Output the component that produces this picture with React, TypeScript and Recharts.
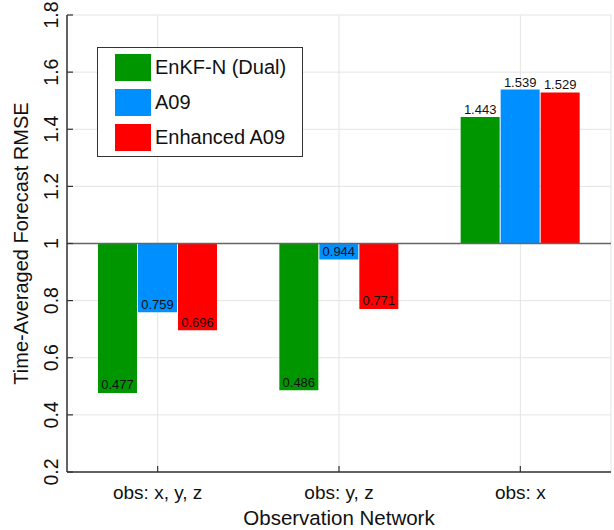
import React from "react";
import {
  BarChart,
  Bar,
  XAxis,
  YAxis,
  CartesianGrid,
  ReferenceLine,
  LabelList,
  Legend,
} from "recharts";

const categories = ["obs: x, y, z", "obs: y, z", "obs: x"];
const enkfDual = [0.477, 0.486, 1.443];
const a09 = [0.759, 0.944, 1.539];
const enhancedA09 = [0.696, 0.771, 1.529];
const yTicks = [0.2, 0.4, 0.6, 0.8, 1, 1.2, 1.4, 1.6, 1.8];
const baseline = 1;

const FONT = "'Liberation Sans', Arial, Helvetica, sans-serif";
const AXIS = "#333333";

const series = [
  { key: "enkf", name: "EnKF-N (Dual)", values: enkfDual, color: "#009600" },
  { key: "a09", name: "A09", values: a09, color: "#008FFF" },
  { key: "enh", name: "Enhanced A09", values: enhancedA09, color: "#FF0000" },
];

// bars grow from the 1.0 reference, so each cell is a [low, high] range
const data = categories.map((name, i) => {
  const row: Record<string, unknown> = { name };
  series.forEach((s) => {
    const v = s.values[i];
    row[s.key] = [Math.min(baseline, v), Math.max(baseline, v)];
  });
  return row;
});

// value text: inside the bottom of bars below 1, above the top of bars above 1
const makeBarLabel = (values: number[]) => (props: any) => {
  const { x, y, width, height, index } = props;
  const v = values[index];
  const cx = x + width / 2;
  const ty = v < baseline ? y + height - 3.5 : y - 3;
  return (
    <text x={cx} y={ty} textAnchor="middle" fontSize={13} fontFamily={FONT} fill="#111">
      {v.toFixed(3)}
    </text>
  );
};

const LeftTick = (props: any) => {
  const { x, y, payload } = props;
  return (
    <g>
      <line x1={x} y1={y} x2={x + 6} y2={y} stroke={AXIS} strokeWidth={1.2} />
      <text
        x={x - 9}
        y={y}
        transform={`rotate(-90, ${x - 9}, ${y})`}
        textAnchor="middle"
        fontSize={19.5}
        fontFamily={FONT}
        fill="#111"
      >
        {String(payload.value)}
      </text>
    </g>
  );
};

const RightTick = (props: any) => {
  const { x, y } = props;
  return <line x1={x} y1={y} x2={x - 6} y2={y} stroke={AXIS} strokeWidth={1.2} />;
};

const BottomTick = (props: any) => {
  const { x, y, payload } = props;
  return (
    <g>
      <line x1={x} y1={y} x2={x} y2={y - 6} stroke={AXIS} strokeWidth={1.2} />
      <text x={x} y={y + 27} textAnchor="middle" fontSize={19} fontFamily={FONT} fill="#111">
        {payload.value}
      </text>
    </g>
  );
};

const TopTick = (props: any) => {
  const { x, y } = props;
  return <line x1={x} y1={y} x2={x} y2={y + 6} stroke={AXIS} strokeWidth={1.2} />;
};

const LegendBox = () => (
  <div
    style={{
      width: 206,
      height: 110,
      boxSizing: "border-box",
      border: `1.5px solid ${AXIS}`,
      background: "#fff",
      paddingTop: 6,
      paddingLeft: 17,
      fontFamily: FONT,
    }}
  >
    {series.map((s) => (
      <div key={s.key} style={{ display: "flex", alignItems: "center", height: 27, marginBottom: 8 }}>
        <div style={{ width: 36, height: 27, background: s.color }} />
        <span style={{ marginLeft: 4, fontSize: 20, color: "#111", lineHeight: "27px" }}>{s.name}</span>
      </div>
    ))}
  </div>
);

export default function App() {
  return (
    <div style={{ position: "absolute", left: 0, top: 0, width: 614, height: 530, background: "#fff" }}>
      <BarChart
        width={614}
        height={530}
        data={data}
        margin={{ top: 15, right: 3, bottom: 0, left: 0 }}
        barSize={39}
        barGap={1}
      >
        <CartesianGrid stroke="#e4e4e4" strokeWidth={1} />
        <XAxis
          dataKey="name"
          height={58}
          axisLine={{ stroke: AXIS, strokeWidth: 1.5 }}
          tickLine={false}
          tickSize={0}
          tickMargin={0}
          tick={<BottomTick />}
          interval={0}
          label={{
            value: "Observation Network",
            position: "insideBottom",
            offset: 5,
            fontSize: 20.5,
            fontFamily: FONT,
            fill: "#111",
          }}
        />
        <XAxis
          xAxisId="top"
          dataKey="name"
          orientation="top"
          height={0}
          axisLine={{ stroke: AXIS, strokeWidth: 1.5 }}
          tickLine={false}
          tickSize={0}
          tickMargin={0}
          tick={<TopTick />}
          interval={0}
        />
        <YAxis
          type="number"
          domain={[0.2, 1.8]}
          ticks={yTicks}
          width={67}
          axisLine={{ stroke: AXIS, strokeWidth: 1.5 }}
          tickLine={false}
          tickSize={0}
          tickMargin={0}
          tick={<LeftTick />}
          interval={0}
          label={{
            value: "Time-Averaged Forecast RMSE",
            angle: -90,
            position: "insideLeft",
            offset: 21,
            style: { textAnchor: "middle" },
            fontSize: 20,
            fontFamily: FONT,
            fill: "#111",
          }}
        />
        <YAxis
          yAxisId="right"
          orientation="right"
          type="number"
          domain={[0.2, 1.8]}
          ticks={yTicks}
          width={0}
          axisLine={{ stroke: AXIS, strokeWidth: 1.5 }}
          tickLine={false}
          tickSize={0}
          tickMargin={0}
          tick={<RightTick />}
          interval={0}
        />
        <Legend
          layout="horizontal"
          verticalAlign="middle"
          align="center"
          wrapperStyle={{ left: 97, top: 47, width: 206 }}
          content={() => <LegendBox />}
        />
        {series.map((s) => (
          <Bar key={s.key} dataKey={s.key} name={s.name} fill={s.color} isAnimationActive={false}>
            <LabelList dataKey={s.key} content={makeBarLabel(s.values)} />
          </Bar>
        ))}
        <ReferenceLine y={baseline} stroke="#666" strokeWidth={1.5} />
      </BarChart>
    </div>
  );
}
